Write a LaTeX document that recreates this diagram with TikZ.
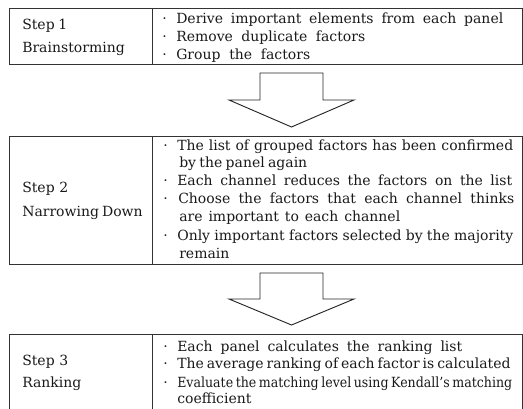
\documentclass[tikz,border=0pt]{standalone}
\usepackage{fontspec}
\usepackage{graphicx}
\setmainfont{DejaVu Serif}
\newlength\pxu
\setlength\pxu{0.75pt}
\newcommand\jline[2]{\makebox[#1\pxu][s]{#2}}
\begin{document}
\begin{tikzpicture}[x=0.75pt,y=-0.75pt,
  frame/.style={draw=black!80, line width=0.9pt, inner sep=0pt, anchor=north west},
  txt/.style={anchor=base west, inner sep=0pt, font=\fontsize{10.5}{12}\selectfont, text=black!90},
  dotb/.style={txt},
  blockarrow/.style={draw=black!85, line width=0.7pt, fill=white, line join=miter}]
\useasboundingbox (0,0) rectangle (523,409);
\clip (0,0) rectangle (523,409);
% ---- cells
\node[frame, minimum width=143\pxu, minimum height=56\pxu] (lab1) at (9,8) {};
\node[frame, minimum width=370\pxu, minimum height=56\pxu] (con1) at (152,8) {};
\node[frame, minimum width=143\pxu, minimum height=128\pxu] (lab2) at (9,136) {};
\node[frame, minimum width=370\pxu, minimum height=128\pxu] (con2) at (152,136) {};
\node[frame, minimum width=143\pxu, minimum height=100\pxu] (lab3) at (9,334) {};
\node[frame, minimum width=370\pxu, minimum height=100\pxu] (con3) at (152,334) {};
% ---- block arrows
\draw[blockarrow] (260,73) -- (323,73) -- (323,100) -- (354,100) -- (291.5,127) -- (229,100) -- (260,100) -- cycle;
\draw[blockarrow] (260,273) -- (323,273) -- (323,299) -- (354,299) -- (291.5,325) -- (229,299) -- (260,299) -- cycle;
% ---- step 1
\node[txt] (s1a) at (22,30) {\jline{45}{Step 1}};
\node[txt] (s1b) at (22,53) {Brainstorming};
\node[dotb] (d11) at (162,24) {·};
\node[txt] (t11) at (176,24) {\jline{327}{Derive important elements from each panel}};
\node[dotb] (d12) at (162,42) {·};
\node[txt] (t12) at (176,42) {\jline{189}{Remove duplicate factors}};
\node[dotb] (d13) at (162,60) {·};
\node[txt] (t13) at (176,60) {\jline{134}{Group the factors}};
% ---- step 2
\node[txt] (s2a) at (22,193) {\jline{46}{Step 2}};
\node[txt] (s2b) at (22,216) {\jline{115}{Narrowing Down}};
\node[dotb] (d21) at (163,151) {·};
\node[txt] (t21) at (177,151) {\jline{336}{The list of grouped factors has been confirmed}};
\node[txt] (t21b) at (179,168) {\jline{128}{by the panel again}};
\node[dotb] (d22) at (163,186) {·};
\node[txt] (t22) at (177,186) {\jline{335}{Each channel reduces the factors on the list}};
\node[dotb] (d23) at (163,204) {·};
\node[txt] (t23) at (178,204) {\jline{336}{Choose the factors that each channel thinks}};
\node[txt] (t23b) at (179,222) {\jline{221}{are important to each channel}};
\node[dotb] (d24) at (163,240) {·};
\node[txt] (t24) at (177,240) {\jline{336}{Only important factors selected by the majority}};
\node[txt] (t24b) at (179,258) {remain};
% ---- step 3
\node[txt] (s3a) at (22,365) {\jline{46}{Step 3}};
\node[txt] (s3b) at (22,387) {Ranking};
\node[dotb] (d31) at (163,351) {·};
\node[txt] (t31) at (177,351) {\jline{285}{Each panel calculates the ranking list}};
\node[dotb] (d32) at (163,368) {·};
\node[txt] (t32) at (177,368) {\jline{330}{The average ranking of each factor is calculated}};
\node[dotb] (d33) at (163,387) {·};
\node[txt] (t33) at (177,387) {\resizebox{335\pxu}{\height}{\spaceskip=0.2em\relax Evaluate the matching level using Kendall's matching}};
\node[txt] (t33b) at (177,403) {coefficient};
\end{tikzpicture}
\end{document}
